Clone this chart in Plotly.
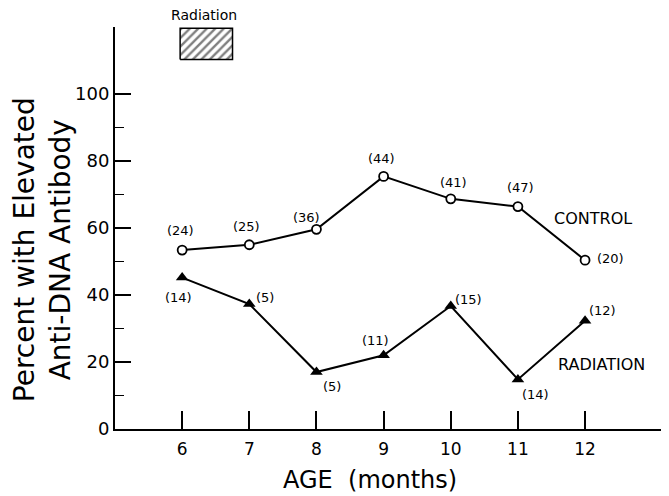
import plotly.graph_objects as go

age = [6, 7, 8, 9, 10, 11, 12]
control_pct = [53.4, 55.0, 59.6, 75.4, 68.7, 66.4, 50.4]
control_n = ["(24)", "(25)", "(36)", "(44)", "(41)", "(47)", "(20)"]
radiation_pct = [45.2, 37.3, 17.0, 22.0, 36.7, 14.8, 32.3]
radiation_n = ["(14)", "(5)", "(5)", "(11)", "(15)", "(14)", "(12)"]
radiation_period = [5.97, 6.75]
y_ticks = [0, 20, 40, 60, 80, 100]
y_minor = [10, 30, 50, 70, 90]

FONT = "DejaVu Sans"

# label offsets (pixels)
ctrl_off = [(-2, 20), (-3, 18), (-10, 12), (-2, 18), (3, 16), (3, 19), (25, 2)]
rad_off = [(-4, -20), (16, 7), (16, -14), (-8, 15), (18, 7), (18, -15), (17, 10)]

fig = go.Figure()

fig.add_trace(go.Scatter(
    x=[radiation_period[0], radiation_period[1], radiation_period[1], radiation_period[0], radiation_period[0]],
    y=[110.3, 110.3, 119.6, 119.6, 110.3],
    mode="lines", fill="toself", fillcolor="white",
    fillpattern=dict(shape="/", fgcolor="black", bgcolor="white", size=6, solidity=0.4),
    line=dict(color="black", width=1.5), showlegend=False, hoverinfo="skip"))

fig.add_trace(go.Scatter(
    x=age, y=control_pct, mode="lines+markers",
    line=dict(color="black", width=2),
    marker=dict(symbol="circle", size=9, color="white", line=dict(color="black", width=1.8)),
    showlegend=False, cliponaxis=False))

fig.add_trace(go.Scatter(
    x=age, y=radiation_pct, mode="lines+markers",
    line=dict(color="black", width=2),
    marker=dict(symbol="triangle-up", size=11, color="black"),
    showlegend=False, cliponaxis=False))

annotations = []
for xv, yv, t, (dx, dy) in zip(age, control_pct, control_n, ctrl_off):
    annotations.append(dict(x=xv, y=yv, text=t, showarrow=False, xshift=dx, yshift=dy,
                            font=dict(family=FONT, size=13, color="black")))
for xv, yv, t, (dx, dy) in zip(age, radiation_pct, radiation_n, rad_off):
    annotations.append(dict(x=xv, y=yv, text=t, showarrow=False, xshift=dx, yshift=dy,
                            font=dict(family=FONT, size=13, color="black")))

annotations += [
    dict(x=12.12, y=62.7, text="CONTROL", showarrow=False,
         font=dict(family=FONT, size=16, color="black")),
    dict(x=12.24, y=19.3, text="RADIATION", showarrow=False,
         font=dict(family=FONT, size=16, color="black")),
    dict(x=6.33, y=1.0, yref="paper", yshift=12, yanchor="middle", xanchor="center",
         text="Radiation", showarrow=False,
         font=dict(family=FONT, size=14, color="black")),
    dict(x=-0.132, xref="paper", y=0.447, yref="paper", textangle=-90,
         xanchor="center", yanchor="middle",
         text="Percent with Elevated<br>Anti-DNA Antibody", showarrow=False,
         font=dict(family=FONT, size=28, color="black")),
    dict(x=0.46, xref="paper", y=0, yref="paper", yshift=-51, xanchor="center", yanchor="middle",
         text="AGE  (months)", showarrow=False,
         font=dict(family=FONT, size=24, color="black")),
]

fig.update_layout(
    width=661, height=488,
    margin=dict(l=107, r=0, t=19, b=67),
    paper_bgcolor="white", plot_bgcolor="white",
    annotations=annotations,
    font=dict(family=FONT, color="black"),
    xaxis=dict(range=[5, 13.25], tickvals=age, ticks="inside", ticklen=18, tickwidth=1.5,
               tickcolor="black", showline=True, linecolor="black", linewidth=2,
               showgrid=False, zeroline=False, tickfont=dict(size=17, family=FONT),
               ticklabelstandoff=4),
    yaxis=dict(range=[0, 120], tickvals=y_ticks, ticks="inside", ticklen=16, tickwidth=1.5,
               tickcolor="black", showline=True, linecolor="black", linewidth=2,
               showgrid=False, zeroline=False, tickfont=dict(size=18, family=FONT),
               minor=dict(tickvals=y_minor, ticks="inside", ticklen=9, tickwidth=1.2,
                          tickcolor="black", showgrid=False)),
)

fig.write_html("out.html")
